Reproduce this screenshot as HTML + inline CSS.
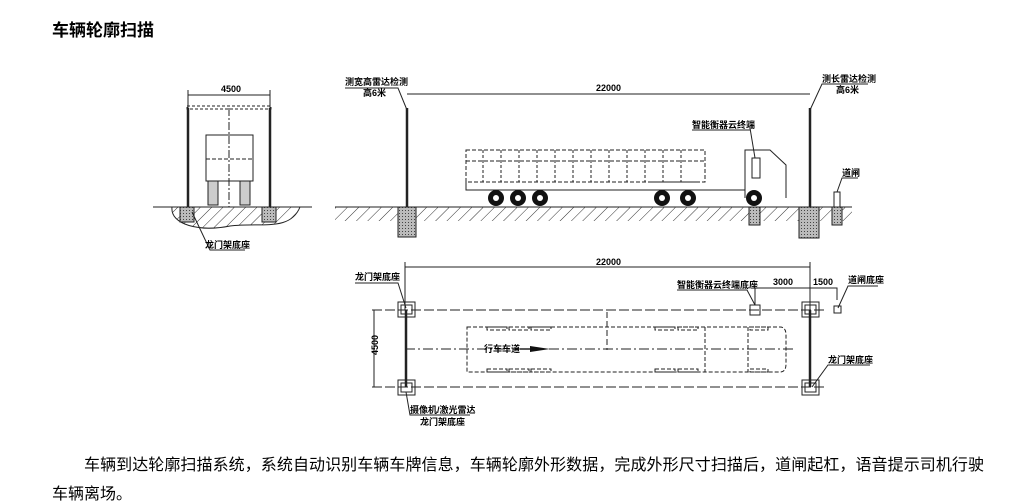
<!DOCTYPE html>
<html><head><meta charset="utf-8"><style>
body{margin:0;background:#fff;width:1033px;height:501px;overflow:hidden}
svg{display:block}
.t{font-family:"Liberation Sans","Noto Sans CJK SC",sans-serif}
.s{font-size:9px;font-weight:bold;font-family:"Liberation Sans","Noto Sans CJK SC",sans-serif}
</style></head><body>
<svg width="1033" height="501" viewBox="0 0 1033 501" xmlns="http://www.w3.org/2000/svg">
<defs>
<pattern id="h" width="8" height="8" patternUnits="userSpaceOnUse" patternTransform="rotate(45)">
<line x1="0" y1="0" x2="0" y2="8" stroke="#333" stroke-width="1"/></pattern>
<pattern id="d" width="3" height="3" patternUnits="userSpaceOnUse">
<rect width="3" height="3" fill="#bbb"/><rect width="1" height="1" fill="#444"/></pattern>
</defs>
<text x="52" y="36" class="t" font-size="17" font-weight="bold">车辆轮廓扫描</text>

<g stroke="#222" fill="none" stroke-width="1">
<!-- left gantry side view -->
<line x1="188" y1="95" x2="270" y2="95"/>
<line x1="188" y1="90" x2="188" y2="108"/><line x1="270" y1="90" x2="270" y2="108"/>
<rect x="187" y="106" width="84" height="3" stroke-dasharray="3 2"/>
<line x1="188" y1="108" x2="188" y2="207" stroke-width="2.5"/>
<line x1="270" y1="108" x2="270" y2="207" stroke-width="2.5"/>
<line x1="229" y1="108" x2="229" y2="207" stroke-dasharray="8 2 2 2"/>
<rect x="206" y="135" width="47" height="46"/>
<line x1="206" y1="159" x2="253" y2="159" stroke-dasharray="4 2"/>
<rect x="208" y="181" width="10" height="24" fill="#ccc"/><rect x="240" y="181" width="10" height="24" fill="#ccc"/>
<path d="M153 207 H312" />
<path d="M172 207 C170 225 200 232 230 226 C260 222 290 232 300 207 Z" fill="url(#h)"/>
<rect x="180" y="207" width="14" height="15" fill="url(#d)"/><rect x="262" y="207" width="14" height="15" fill="url(#d)"/>
<path d="M192 212 L210 250 H245"/>
<!-- ground long -->
<line x1="335" y1="207" x2="852" y2="207"/>
<rect x="335" y="207" width="517" height="14" fill="url(#h)" stroke="none"/>
<!-- poles -->
<line x1="407" y1="108" x2="407" y2="207" stroke-width="2.5"/>
<rect x="398" y="207" width="18" height="30" fill="url(#d)"/>
<line x1="810" y1="108" x2="810" y2="207" stroke-width="2.5"/>
<rect x="799" y="207" width="20" height="31" fill="url(#d)"/>
<path d="M407 110 L398 88 H345"/>
<path d="M810 110 L822 84 H868"/>
<line x1="407" y1="94" x2="810" y2="94"/>
<!-- trailer -->
<rect x="466" y="150" width="239" height="32" stroke-dasharray="4 2"/>
<line x1="466" y1="161" x2="705" y2="161" stroke-dasharray="4 2"/>
<g stroke-dasharray="3 2">
<line x1="483" y1="150" x2="483" y2="182"/><line x1="501" y1="150" x2="501" y2="182"/><line x1="519" y1="150" x2="519" y2="182"/><line x1="537" y1="150" x2="537" y2="182"/><line x1="555" y1="150" x2="555" y2="182"/><line x1="573" y1="150" x2="573" y2="182"/><line x1="591" y1="150" x2="591" y2="182"/><line x1="609" y1="150" x2="609" y2="182"/><line x1="627" y1="150" x2="627" y2="182"/><line x1="645" y1="150" x2="645" y2="182"/><line x1="663" y1="150" x2="663" y2="182"/><line x1="681" y1="150" x2="681" y2="182"/>
</g>
<path d="M466 182 V190 H745 M650 182 L700 182"/>
<path d="M745 198 V150 H770 L786 165 V198" />
<path d="M752 158 V178 H760 V158 Z"/>
<path d="M750 128 L755 158"/><line x1="692" y1="130" x2="750" y2="130"/>
<rect x="749" y="207" width="11" height="18" fill="url(#d)"/>
<!-- gate -->
<rect x="834" y="192" width="6" height="15"/><rect x="832" y="207" width="10" height="18" fill="url(#d)"/>
<path d="M837 192 L842 178 H858"/>
</g>
<g fill="#111">
<circle cx="496" cy="198" r="8"/><circle cx="518" cy="198" r="8"/><circle cx="540" cy="198" r="8"/>
<circle cx="662" cy="198" r="8"/><circle cx="688" cy="198" r="8"/><circle cx="754" cy="198" r="8"/>
</g>
<g fill="#fff"><circle cx="496" cy="198" r="3"/><circle cx="518" cy="198" r="3"/><circle cx="540" cy="198" r="3"/><circle cx="662" cy="198" r="3"/><circle cx="688" cy="198" r="3"/><circle cx="754" cy="198" r="3"/></g>

<!-- plan view -->
<g stroke="#222" fill="none" stroke-width="1">
<line x1="405" y1="267" x2="810" y2="267"/>
<line x1="405" y1="262" x2="405" y2="310"/><line x1="810" y1="262" x2="810" y2="310"/>
<line x1="372" y1="310" x2="827" y2="310" stroke-dasharray="10 3"/>
<line x1="372" y1="387" x2="827" y2="387" stroke-dasharray="10 3"/>
<line x1="405" y1="349" x2="795" y2="349" stroke-dasharray="10 3 2 3"/>
<line x1="374" y1="310" x2="374" y2="387"/>
<line x1="607" y1="312" x2="607" y2="350" stroke-dasharray="6 3"/>
<path d="M467 327 H780 Q786 327 786 335 V364 Q786 372 780 372 H467 Z" stroke-dasharray="4 2"/>
<line x1="705" y1="327" x2="705" y2="372" stroke-dasharray="4 2"/>
<line x1="748" y1="327" x2="748" y2="372" stroke-dasharray="4 2"/>
<line x1="406" y1="310" x2="406" y2="387" stroke-width="2.5"/>
<line x1="810" y1="310" x2="810" y2="387" stroke-width="2.5"/>
<rect x="398" y="302" width="17" height="15"/><rect x="401" y="305" width="11" height="9"/>
<rect x="398" y="380" width="17" height="15"/><rect x="401" y="383" width="11" height="9"/>
<rect x="802" y="302" width="17" height="15"/><rect x="805" y="305" width="11" height="9"/>
<rect x="802" y="380" width="17" height="15"/><rect x="805" y="383" width="11" height="9"/>
<rect x="750" y="305" width="10" height="10"/>
<rect x="834" y="306" width="7" height="7"/>
<path d="M755 288 H810 M810 288 H837 V300 M755 288 V305"/>
<path d="M406 308 L398 283 H355"/>
<path d="M755 305 L747 290 H677"/>
<path d="M838 308 L848 286 H878"/>
<path d="M812 387 L828 365 H870"/>
<path d="M406 392 L410 415 H470"/>
<g stroke-dasharray="4 2">
<rect x="487" y="327" width="20" height="3"/><rect x="509" y="327" width="20" height="3"/><rect x="531" y="327" width="20" height="3"/>
<rect x="655" y="327" width="20" height="3"/><rect x="678" y="327" width="20" height="3"/><rect x="750" y="327" width="18" height="3"/>
<rect x="487" y="369" width="20" height="3"/><rect x="509" y="369" width="20" height="3"/><rect x="531" y="369" width="20" height="3"/>
<rect x="655" y="369" width="20" height="3"/><rect x="678" y="369" width="20" height="3"/><rect x="750" y="369" width="18" height="3"/>
</g>
<line x1="520" y1="349" x2="540" y2="349" stroke-width="1.5"/>
</g>
<polygon points="530,346 550,349 530,352" fill="#111"/>

<g class="s">
<text x="221" y="92">4500</text>
<text x="596" y="91">22000</text>
<text x="345" y="85">测宽高雷达检测</text><text x="363" y="96">高6米</text>
<text x="822" y="82">测长雷达检测</text><text x="836" y="93">高6米</text>
<text x="692" y="128">智能衡器云终端</text>
<text x="842" y="176">道闸</text>
<text x="205" y="248">龙门架底座</text>
<text x="596" y="265">22000</text>
<text x="355" y="280">龙门架底座</text>
<text x="677" y="288">智能衡器云终端底座</text>
<text x="773" y="285">3000</text>
<text x="813" y="285">1500</text>
<text x="848" y="283">道闸底座</text>
<text x="828" y="363">龙门架底座</text>
<text x="484" y="352">行车车道</text>
<text x="410" y="413">摄像机/激光雷达</text>
<text x="420" y="425">龙门架底座</text>
<text x="378" y="355" transform="rotate(-90 378 355)">4500</text>
</g>
<text x="84" y="470" class="t" font-size="16" textLength="900">车辆到达轮廓扫描系统，系统自动识别车辆车牌信息，车辆轮廓外形数据，完成外形尺寸扫描后，道闸起杠，语音提示司机行驶</text>
<text x="52" y="499" class="t" font-size="16">车辆离场。</text>
</svg>
</body></html>
